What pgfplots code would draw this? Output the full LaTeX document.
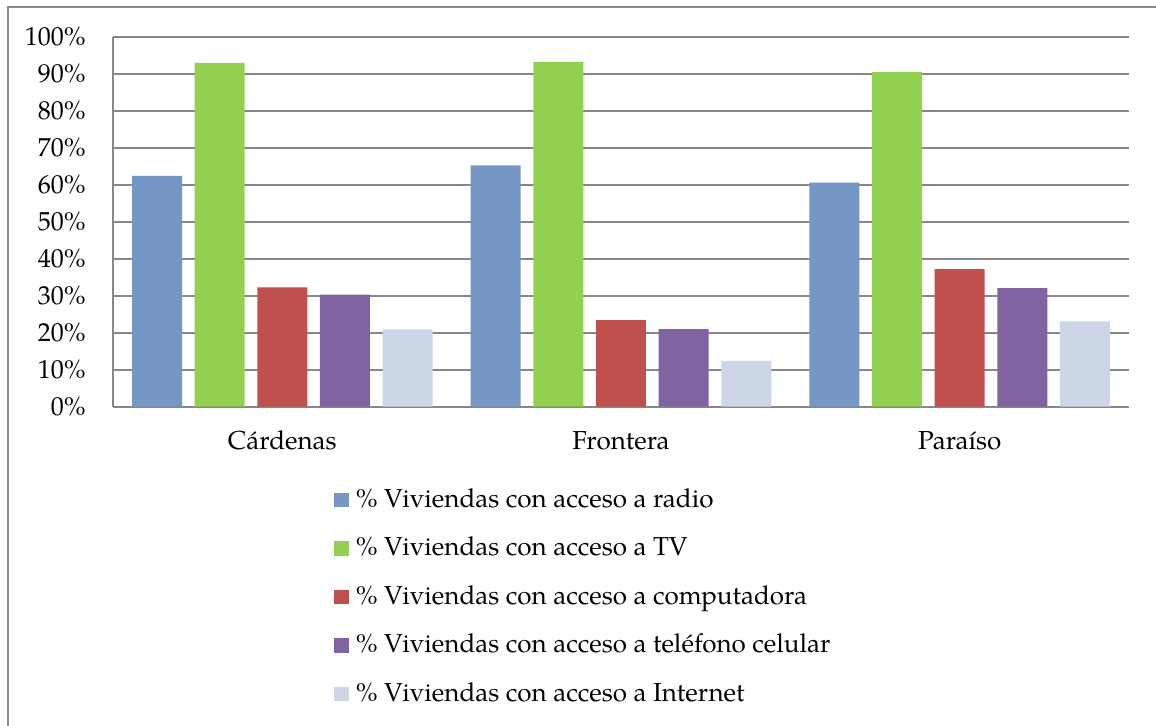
\documentclass[border=0pt]{standalone}
\usepackage{fontspec}
\setmainfont{TeX Gyre Pagella}
\usepackage{pgfplots}
\pgfplotsset{compat=1.18}
\definecolor{BarBlue}{HTML}{7597C6}
\definecolor{BarGreen}{HTML}{92D050}
\definecolor{BarRed}{HTML}{C0504D}
\definecolor{BarPurple}{HTML}{8064A2}
\definecolor{BarLight}{HTML}{CCD6E6}
\definecolor{GridGray}{HTML}{878787}
\definecolor{FrameGray}{HTML}{8C8C8C}

\begin{document}
\fontsize{13}{15.5}\selectfont
\begin{tikzpicture}
  % page = 1156 x 726 px, 1 px = 0.5pt
  \path[use as bounding box] (0pt,0pt) rectangle (578pt,363pt);
  \draw[FrameGray,line width=1pt] (4pt,0pt) -- (4pt,359.5pt) -- (578pt,359.5pt);
  \begin{axis}[
    at={(56.5pt,159.65pt)},anchor=south west,
    scale only axis,width=508pt,height=184.85pt,
    xmin=-0.5,xmax=2.5,ymin=0,ymax=100,
    xtick={0,1,2},xticklabels={Cárdenas,Frontera,Paraíso},
    ytick={0,10,...,100},
    yticklabels={0\%,10\%,20\%,30\%,40\%,50\%,60\%,70\%,80\%,90\%,100\%},
    axis x line*=bottom,axis y line*=left,
    axis line style={draw=GridGray,line width=0.9pt},
    major tick length=0pt,
    ymajorgrids,grid style={GridGray,line width=0.9pt},
    xticklabel style={inner sep=0pt,text height=9pt,text depth=2.8pt,yshift=-12.3pt},
    yticklabel style={inner sep=0pt,xshift=-13.5pt},
    ybar,bar width=0.1476,
    legend style={at={(0.2175,-0.2218)},anchor=north west,draw=none,fill=none,
      inner sep=0pt,row sep=12.45pt,
      nodes={inner xsep=3.5pt,inner ysep=0pt,text height=9pt,text depth=2.8pt}},
    legend cell align=left,
    legend image code/.code={\fill[#1] (0pt,-3.1pt) rectangle (7.25pt,4.15pt);},
  ]
    \addplot[fill=BarBlue,draw=none,bar shift=-0.37]
      coordinates {(0,62.4) (1,65.3) (2,60.6)};
    \addplot[fill=BarGreen,draw=none,bar shift=-0.185]
      coordinates {(0,93.0) (1,93.2) (2,90.5)};
    \addplot[fill=BarRed,draw=none,bar shift=0]
      coordinates {(0,32.3) (1,23.4) (2,37.2)};
    \addplot[fill=BarPurple,draw=none,bar shift=0.185]
      coordinates {(0,30.3) (1,21.0) (2,32.1)};
    \addplot[fill=BarLight,draw=none,bar shift=0.37]
      coordinates {(0,20.9) (1,12.4) (2,23.1)};
    \legend{\% Viviendas con acceso a radio,
            \% Viviendas con acceso a TV,
            \% Viviendas con acceso a computadora,
            \% Viviendas con acceso a teléfono celular,
            \% Viviendas con acceso a Internet}
  \end{axis}
\end{tikzpicture}
\end{document}
